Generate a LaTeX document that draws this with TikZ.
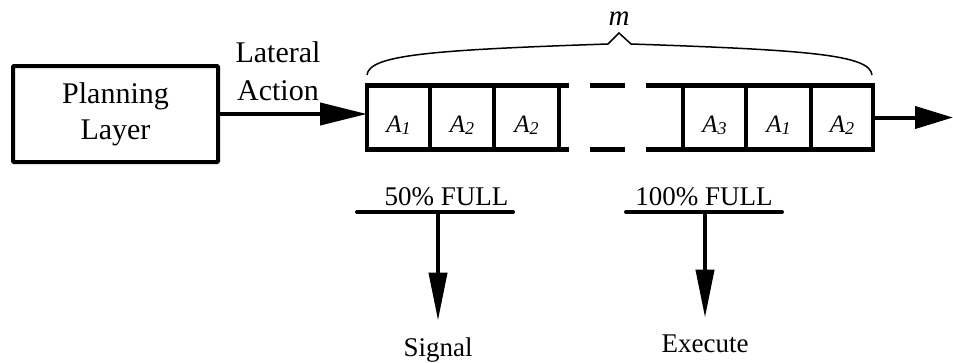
\documentclass[tikz,border=0pt]{standalone}
\usepackage{fontspec}
\setmainfont{Liberation Serif}
\usetikzlibrary{arrows.meta}
\begin{document}
\begin{tikzpicture}[x=1pt,y=-1pt,
  cell/.style={draw, line width=4.5pt, minimum height=64pt, inner sep=0pt, outer sep=0pt,
    font=\fontsize{25}{25}\selectfont\itshape, text height=29pt, text depth=0pt},
  qline/.style={line width=4.5pt},
  arr/.style={line width=4pt, -{Triangle[length=47pt,width=22pt]}},
  arrR/.style={line width=4pt, -{Triangle[length=38pt,width=22pt]}},
  darr/.style={line width=4pt, -{Triangle[length=48pt,width=18pt]}},
  big/.style={font=\fontsize{30}{36}\selectfont},
  lab/.style={font=\fontsize{27}{27}\selectfont, anchor=base, inner sep=0pt},
  bar/.style={line width=4pt, line cap=round}
]
\useasboundingbox (0,0) rectangle (953,362);
\newcommand{\Asub}[1]{A\raisebox{-2.5pt}{\fontsize{18}{18}\selectfont #1}}

% planning layer
\node[draw, line width=4pt, rounded corners=1pt, minimum width=205pt, minimum height=96pt,
      outer sep=0pt, align=center, big] (plan) at (115.5,114) {Planning\\Layer};
\node[align=center, font=\fontsize{30}{38}\selectfont, inner sep=0pt] (lat) at (278,71) {Lateral\\Action};

% queue cells
\node[cell, minimum width=63pt] (c1) at (398.5,117.5) {\Asub{1}};
\node[cell, minimum width=64pt] (c2) at (462,117.5) {\Asub{2}};
\node[cell, minimum width=65pt] (c3) at (526.5,117.5) {\Asub{2}};
\node[cell, minimum width=63pt] (c4) at (714.5,117.5) {\Asub{3}};
\node[cell, minimum width=65pt] (c5) at (778.5,117.5) {\Asub{1}};
\node[cell, minimum width=62pt] (c6) at (842,117.5) {\Asub{2}};

% broken middle part of the queue
\draw[qline] (c3.north east) -- ++(10,0);
\draw[qline] (c3.south east) -- ++(10,0);
\draw[qline] (590,85.5) -- (625,85.5);
\draw[qline] (590,149.5) -- (625,149.5);
\draw[qline] (c4.north west) -- ++(-37,0);
\draw[qline] (c4.south west) -- ++(-37,0);

% brace
\draw[line width=1.5pt] (367,75) .. controls (369,55) and (430,50) .. (608,44)
   -- (619,33) -- (631,44) .. controls (810,50) and (870,55) .. (872,75);
\node[font=\fontsize{29}{29}\selectfont\itshape, anchor=base, inner sep=0pt] (m) at (619,25) {m};

% arrows in/out
\draw[arr] (plan.east) -- (plan.east -| c1.west);
\coordinate (out) at (953,117.5);
\draw[arrR] (c6.east) -- (out);

% thresholds
\node[lab] (f50) at (446.5,205) {50\% FULL};
\draw[bar] (357,212) -- (513,212);
\coordinate (s0) at (438,212);
\node[lab, inner ysep=16.5pt] (sig) at (438,356) {Signal};
\draw[darr] (s0) -- (sig.north);

\node[lab] (f100) at (704,205) {100\% FULL};
\draw[bar] (626,212) -- (782,212);
\coordinate (e0) at (705,212);
\node[lab, inner ysep=16.5pt] (exe) at (705,352) {Execute};
\draw[darr] (e0) -- (exe.north);
\end{tikzpicture}
\end{document}
